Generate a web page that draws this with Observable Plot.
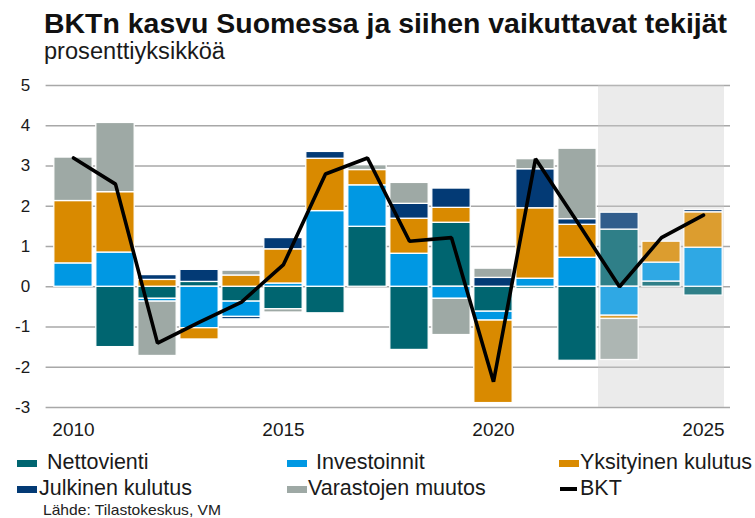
<!DOCTYPE html>
<html><head><meta charset="utf-8">
<script src="https://cdn.jsdelivr.net/npm/d3@7"></script>
<script src="https://cdn.jsdelivr.net/npm/@observablehq/plot@0.6"></script>
<style>
body{margin:0;background:#fff;font-family:"Liberation Sans",Arial,sans-serif;color:#1a1a1a}
#wrap{position:relative;width:755px;height:518px;overflow:hidden;background:#fff}
#chart{position:absolute;left:0;top:0}
.t{position:absolute;white-space:nowrap;line-height:1;transform-origin:0 50%}
.sw{position:absolute;width:20px;height:7px}
</style></head><body>
<div id="wrap">
  <div id="chart"></div>
  <div class="t" id="title" style="left:44px;top:10px;font-size:28px;font-weight:bold;color:#111">BKTn kasvu Suomessa ja siihen vaikuttavat tekijät</div>
  <div class="t" id="subtitle" style="left:44px;top:40px;font-size:23px;color:#1a1a1a">prosenttiyksikköä</div>
  <div id="legend"></div>
  <div class="t" id="source" style="left:43px;top:503px;font-size:14.5px;color:#222">Lähde: Tilastokeskus, VM</div>
</div>
<script>
// ---- data ----
const years = [2010,2011,2012,2013,2014,2015,2016,2017,2018,2019,2020,2021,2022,2023,2024,2025];
const forecastYears = [2023,2024,2025];
const seriesNames = ["Nettovienti","Investoinnit","Yksityinen kulutus","Julkinen kulutus","Varastojen muutos"];
const nettovienti = [0,-1.5,-0.3,0.12,-0.37,-0.56,-0.66,1.49,-1.57,1.59,-0.62,-0.05,-1.84,1.42,0.13,-0.22];
const investoinnit = [0.58,0.85,-0.07,-1.03,-0.38,0.08,1.88,1.03,0.82,-0.3,-0.22,0.2,0.72,-0.72,0.47,0.97];
const yksityinen = [1.55,1.5,0.17,-0.28,0.28,0.85,1.3,0.38,0.87,0.37,-2.05,1.75,0.82,-0.08,0.52,0.88];
const julkinen = [0,0,0.12,0.3,-0.06,0.28,0.17,0,0.37,0.48,0.22,0.97,0.14,0.42,0,0.06];
const varasto = [1.08,1.72,-1.35,0,0.12,-0.08,0,0.12,0.52,-0.9,0.23,0.25,1.75,-1.02,0,0];
const bkt = [3.2,2.55,-1.4,-0.88,-0.38,0.55,2.8,3.2,1.13,1.22,-2.36,3.18,1.6,0.0,1.22,1.78];
const yTicks = [-3,-2,-1,0,1,2,3,4,5];
const xTicks = [2010,2015,2020,2025];

// ---- styles ----
const colors = ["#006570","#0098e3","#d98a00","#033a75","#9ea9a5"];
const gridColor = "#a8a8a8";
const shadeColor = "#ebebeb";

const seriesValues = [nettovienti, investoinnit, yksityinen, julkinen, varasto];
const rows = [];
seriesNames.forEach((s, si) => years.forEach((yr, i) => {
  if (seriesValues[si][i] !== 0) rows.push({year: yr, series: s, value: seriesValues[si][i]});
}));
const lineData = years.map((yr, i) => ({year: yr, value: bkt[i]}));
const yMin = d3.min(yTicks), yMax = d3.max(yTicks);

const plot = Plot.plot({
  width: 755, height: 445,
  marginLeft: 45.6, marginRight: 25, marginTop: 85, marginBottom: 38,
  style: {fontFamily: '"Liberation Sans", Arial, sans-serif', color: "#1a1a1a", background: "transparent"},
  x: {type: "band", domain: years, padding: 0},
  y: {domain: [yMin, yMax]},
  color: {domain: seriesNames, range: colors},
  marks: [
    Plot.barY(forecastYears, {x: d => d, y1: yMin, y2: yMax, fill: shadeColor}),
    Plot.ruleY(yTicks, {stroke: gridColor, strokeWidth: 1.6}),
    Plot.barY(rows, {x: "year", y: "value", fill: "series", stroke: "white", strokeWidth: 1.3, insetLeft: 1.8, insetRight: 1.8}),
    Plot.barY(forecastYears, {x: d => d, y1: yMin, y2: yMax, fill: shadeColor, fillOpacity: 0.2}),
    Plot.line(lineData, {x: "year", y: "value", stroke: "#000", strokeWidth: 3.6, strokeLinejoin: "miter"}),
    Plot.axisY(yTicks, {tickSize: 0, tickPadding: 16, fontSize: 17, tickFormat: d => String(d), label: null}),
    Plot.axisX(xTicks, {tickSize: 0, tickPadding: 15, fontSize: 19, tickFormat: d => String(d), label: null})
  ]
});
document.getElementById("chart").appendChild(plot);

// ---- legend ----
const legendItems = [
  {name: "Nettovienti", color: colors[0], sx: 17, tx: 47, cy: 463},
  {name: "Investoinnit", color: colors[1], sx: 287, tx: 316, cy: 463},
  {name: "Yksityinen kulutus", color: colors[2], sx: 559, tx: 580, cy: 463},
  {name: "Julkinen kulutus", color: colors[3], sx: 17, tx: 39, cy: 489},
  {name: "Varastojen muutos", color: colors[4], sx: 287, tx: 308, cy: 489},
  {name: "BKT", color: "#000", sx: 560, tx: 580, cy: 489, line: true}
];
const lg = document.getElementById("legend");
const lfs = 21.5;
legendItems.forEach(it => {
  const sw = document.createElement("div");
  sw.className = "sw";
  sw.style.left = it.sx + "px";
  sw.style.background = it.color;
  if (it.line) { sw.style.width = "17px"; sw.style.height = "4px"; sw.style.top = (it.cy - 2) + "px"; }
  else { sw.style.top = (it.cy - 3.5) + "px"; }
  lg.appendChild(sw);
  const tx = document.createElement("div");
  tx.className = "t";
  tx.textContent = it.name;
  tx.style.fontSize = lfs + "px";
  tx.style.left = it.tx + "px";
  tx.style.top = (it.cy + 0.358 * lfs - 0.8465 * lfs) + "px";
  lg.appendChild(tx);
});

function fit(id, w) {
  const el = document.getElementById(id);
  const r = el.getBoundingClientRect().width;
  el.style.transform = `scaleX(${w / r})`;
}
fit("title", 683);
fit("subtitle", 181);
fit("source", 178);
</script>
</body></html>
